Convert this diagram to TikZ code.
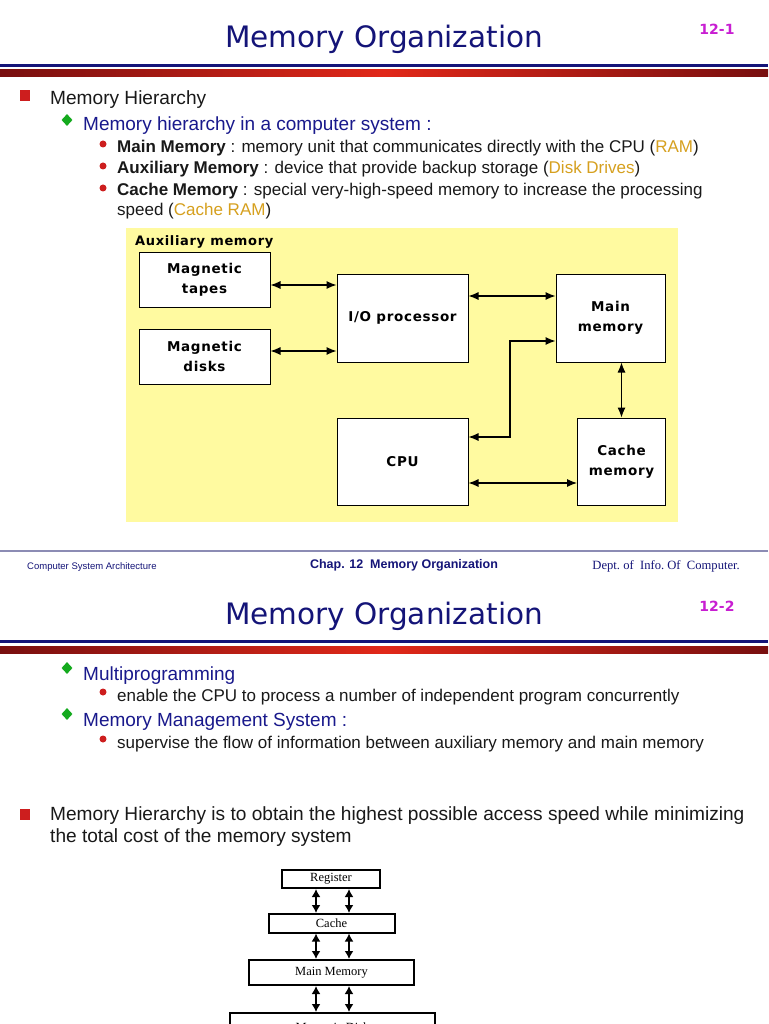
\documentclass[tikz,border=0pt]{standalone}
\usepackage{fontspec}
\setmainfont{Liberation Sans}
\newfontfamily\dejavu{DejaVu Sans}
\newfontfamily\boxfnt{DejaVu Sans}[LetterSpace=5]
\newfontfamily\serifrm{Liberation Serif}
\usetikzlibrary{arrows.meta,shapes.geometric}
\definecolor{navy}{RGB}{20,20,120}
\definecolor{txtblue}{RGB}{25,25,140}
\definecolor{mag}{RGB}{200,30,210}
\definecolor{gold}{RGB}{214,160,30}
\definecolor{bred}{RGB}{205,30,30}
\definecolor{bgreen}{RGB}{20,170,30}
\definecolor{ylw}{RGB}{255,250,160}
\definecolor{darkr}{RGB}{120,15,15}
\definecolor{midr}{RGB}{225,40,25}
\definecolor{footln}{RGB}{140,140,180}
\definecolor{txt}{RGB}{25,25,25}
\tikzset{
  title/.style={anchor=base,inner sep=0,text=navy,font=\dejavu\fontsize{29.5}{32}\selectfont},
  pageno/.style={anchor=base,inner sep=0,text=mag,font=\dejavu\bfseries\fontsize{14}{16}\selectfont},
  lone/.style={anchor=base west,inner sep=0,text=txt,font=\fontsize{19.1}{22}\selectfont},
  ltwo/.style={anchor=base west,inner sep=0,text=txtblue,font=\fontsize{19}{22}\selectfont},
  lthree/.style={anchor=base west,inner sep=0,text=txt,font=\fontsize{17}{20}\selectfont},
  sqbul/.style={fill=bred,inner sep=0,minimum width=10pt,minimum height=11pt},
  diabul/.style={diamond,fill=bgreen,inner sep=0,minimum width=11pt,minimum height=12pt},
  dotbul/.style={circle,fill=bred,inner sep=0,minimum size=7pt},
  blk/.style={draw=black,fill=white,line width=1pt,align=center,inner sep=0,
    font=\boxfnt\bfseries\fontsize{13.5}{20}\selectfont},
  darrow/.style={line width=1.1pt,{Latex[length=10pt,width=8pt]}-{Latex[length=10pt,width=8pt]}},
  hbox/.style={draw=black,fill=white,line width=2pt,inner sep=0,font=\serifrm\fontsize{12.5}{14}\selectfont},
  harrow/.style={line width=2.6pt,{Latex[length=8pt,width=9pt]}-{Latex[length=8pt,width=9pt]}},
  foot/.style={inner sep=0,text=navy,anchor=base}
}
\newcommand{\slidehead}[2]{%
  \node[title] (t#2) at (384,#1+48) {Memory Organization};
  \node[pageno] (p#2) at (717,#1+35) {#2};
  \fill[navy] (0,#1+64) rectangle (768,#1+66.7);
  \shade[left color=darkr,right color=darkr,middle color=midr] (0,#1+70) rectangle (768,#1+77);
}
\begin{document}
\begin{tikzpicture}[x=1pt,y=-1pt]
\useasboundingbox (0,0) rectangle (768,1024);
\clip (0,0) rectangle (768,1024);
\fill[white] (0,0) rectangle (768,1024);
% ---------- slide 1 ----------
\slidehead{0}{12-1}
\node[sqbul] (s1) at (25,96) {};
\node[lone] (a1) at (50,105) {Memory Hierarchy};
\node[diabul] (d1) at (67,120) {};
\node[ltwo] (a2) at (83,131) {Memory hierarchy in a computer system :};
\node[dotbul] (c1) at (103,144) {};
\node[lthree] (a3) at (117,153) {\textbf{Main Memory} : memory unit that communicates directly with the CPU (\textcolor{gold}{RAM})};
\node[dotbul] (c2) at (103,166) {};
\node[lthree] (a4) at (117,174) {\textbf{Auxiliary Memory} : device that provide backup storage (\textcolor{gold}{Disk Drives})};
\node[dotbul] (c3) at (103,188) {};
\node[lthree] (a5) at (117,196) {\textbf{Cache Memory} : special very-high-speed memory to increase the processing};
\node[lthree] (a6) at (117,215) {speed (\textcolor{gold}{Cache RAM})};
% diagram
\fill[ylw] (126,228) rectangle (678,522);
\node[anchor=base west,inner sep=0,font=\boxfnt\bfseries\fontsize{13}{16}\selectfont] (aux) at (135,245) {Auxiliary memory};
\node[blk,minimum width=131pt,minimum height=55pt] (tapes) at (204.5,279.75) {Magnetic\\tapes};
\node[blk,minimum width=131pt,minimum height=55pt] (disks) at (204.5,356.5) {Magnetic\\disks};
\node[blk,minimum width=131pt,minimum height=88pt] (io) at (402.5,318) {I/O processor};
\node[blk,minimum width=109pt,minimum height=88pt] (main) at (610.5,318) {Main\\memory};
\node[blk,minimum width=131pt,minimum height=87pt] (cpu) at (402.5,461.5) {CPU};
\node[blk,minimum width=88pt,minimum height=87pt] (cache) at (621.5,461.5) {Cache\\memory};
\draw[darrow] (tapes.east |- 0,285) -- (io.west |- 0,285);
\draw[darrow] (disks.east |- 0,351) -- (io.west |- 0,351);
\draw[darrow] (io.east |- 0,296) -- (main.west |- 0,296);
\coordinate (bnd1) at (510,437);
\coordinate (bnd2) at (510,341);
\draw[darrow] (cpu.east |- bnd1) -- (bnd1) -- (bnd2) -- (main.west |- bnd2);
\draw[darrow] (main.south -| cache.north) -- (cache.north);
\draw[darrow] (cpu.east |- 0,483) -- (cache.west |- 0,483);
% footer
\draw[footln,line width=1.4pt] (0,551) -- (768,551);
\node[foot,anchor=base west,font=\fontsize{9.5}{11}\selectfont] (f1) at (27,569) {Computer System Architecture};
\node[foot,font=\bfseries\fontsize{12.5}{14}\selectfont] (f2) at (404,568) {Chap. 12\ \ Memory Organization};
\node[foot,anchor=base east,font=\serifrm\fontsize{12.6}{14}\selectfont] (f3) at (740,569) {Dept.\ of\ \ Info.\ Of\ \ Computer.};
% ---------- slide 2 ----------
\slidehead{576}{12-2}
\node[diabul] (d2) at (67,668) {};
\node[ltwo] (b1) at (83,680) {Multiprogramming};
\node[dotbul] (c4) at (103,692) {};
\node[lthree] (b2) at (117,701) {enable the CPU to process a number of independent program concurrently};
\node[diabul] (d3) at (67,714) {};
\node[ltwo] (b3) at (83,726) {Memory Management System :};
\node[dotbul] (c5) at (103,739) {};
\node[lthree] (b4) at (117,748) {supervise the flow of information between auxiliary memory and main memory};
\node[sqbul] (s2) at (25,814) {};
\node[lone] (b5) at (50,820) {Memory Hierarchy is to obtain the highest possible access speed while minimizing};
\node[lone] (b6) at (50,842) {the total cost of the memory system};
% hierarchy
\node[hbox,minimum width=98pt,minimum height=18pt] (reg) at (331,879) {Register};
\node[hbox,minimum width=126pt,minimum height=18.5pt] (cch) at (331.5,923.25) {Cache};
\node[hbox,minimum width=165pt,minimum height=25pt] (mm) at (331.5,972.5) {Main Memory};
\node[hbox,minimum width=205pt,minimum height=40pt,anchor=north] (md) at (332.5,1012) {};
\node[anchor=base,inner sep=0,font=\serifrm\fontsize{12.5}{14}\selectfont] (mdt) at (332.5,1031) {Magnetic Disk};
\foreach \xx in {316,349}{
  \draw[harrow] (reg.south -| \xx,0) -- (cch.north -| \xx,0);
  \draw[harrow] (cch.south -| \xx,0) -- (mm.north -| \xx,0);
  \draw[harrow] (mm.south -| \xx,0) -- (md.north -| \xx,0);
}
\end{tikzpicture}
\end{document}
